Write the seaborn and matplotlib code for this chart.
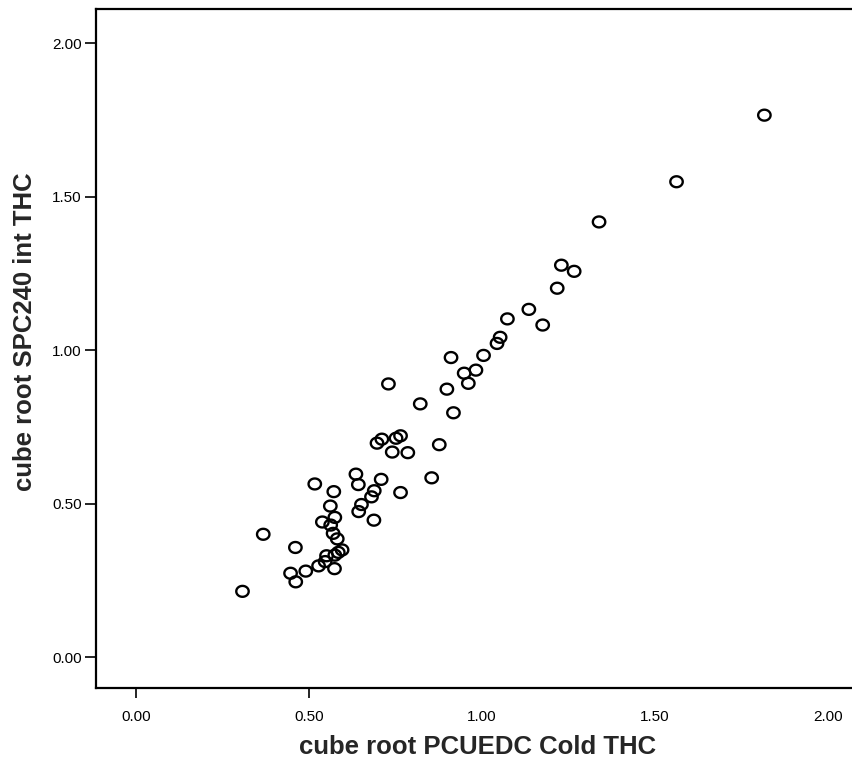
import matplotlib
matplotlib.use("Agg")
import matplotlib.pyplot as plt
from matplotlib.path import Path
import seaborn as sns
import pandas as pd
import numpy as np

x_label = "cube root PCUEDC Cold THC"
y_label = "cube root SPC240 int THC"
tick_values = [0.0, 0.5, 1.0, 1.5, 2.0]
tick_labels = ["0.00", "0.50", "1.00", "1.50", "2.00"]

pcuedc_cold = [
    1.817, 1.563, 1.339, 1.230, 1.267, 1.218,
    1.136, 1.074, 1.176, 1.053, 1.044, 0.911, 1.005, 0.983, 0.949, 0.961,
    0.730, 0.899, 0.822, 0.918, 0.877, 0.855,
    0.697, 0.711, 0.752, 0.765, 0.741, 0.786, 0.636, 0.709, 0.643, 0.517,
    0.572, 0.765, 0.689, 0.681, 0.562, 0.652, 0.644, 0.575, 0.539, 0.688,
    0.563, 0.570, 0.582, 0.368, 0.461, 0.596, 0.585, 0.575, 0.551, 0.547,
    0.528, 0.491, 0.447, 0.462, 0.574, 0.308,
]
spc240_int = [
    1.766, 1.549, 1.418, 1.277, 1.257, 1.202,
    1.133, 1.102, 1.082, 1.042, 1.022, 0.976, 0.983, 0.935, 0.925, 0.892,
    0.890, 0.873, 0.825, 0.796, 0.692, 0.584,
    0.697, 0.710, 0.713, 0.721, 0.668, 0.666, 0.596, 0.579, 0.562, 0.564,
    0.539, 0.536, 0.542, 0.522, 0.492, 0.497, 0.474, 0.455, 0.440, 0.446,
    0.430, 0.403, 0.385, 0.400, 0.357, 0.349, 0.341, 0.332, 0.330, 0.311,
    0.297, 0.280, 0.273, 0.245, 0.288, 0.214,
]

df = pd.DataFrame({x_label: pcuedc_cold, y_label: spc240_int})

# slightly flattened circle marker (as in the SPSS output)
theta = np.linspace(0, 2 * np.pi, 61)
ellipse = Path(np.column_stack([np.cos(theta), 0.88 * np.sin(theta)]), closed=True)

sns.set_style("white")
plt.rcParams["font.family"] = ["Liberation Sans", "DejaVu Sans"]

fig = plt.figure(figsize=(8.52, 7.60), dpi=100)
ax = fig.add_axes([95.5 / 852, 1 - 688 / 760, 1 - 95.5 / 852 + 0.01, (688 - 9) / 760])

sns.scatterplot(data=df, x=x_label, y=y_label, ax=ax, marker=ellipse, s=80,
                facecolor="none", edgecolor="black", linewidth=1.7, legend=False)

ax.set_xlim(-0.117, 2.095)
ax.set_ylim(-0.101, 2.112)

ax.set_xticks(tick_values)
ax.set_xticklabels(tick_labels)
ax.set_yticks(tick_values)
ax.set_yticklabels(tick_labels)

for sp in ["left", "bottom", "top"]:
    ax.spines[sp].set_visible(True)
    ax.spines[sp].set_linewidth(1.6)
    ax.spines[sp].set_color("black")
ax.spines["right"].set_visible(False)

ax.tick_params(axis="both", direction="out", colors="black", labelsize=11, width=1.2)
ax.tick_params(axis="y", length=8, pad=2, left=True)
ax.tick_params(axis="x", length=7.5, pad=8, bottom=True)
for i, t in enumerate(ax.xaxis.get_major_ticks()):
    if i >= 2:
        t.tick1line.set_visible(False)

label_font = dict(family=["Liberation Sans", "DejaVu Sans"],
                  fontsize=18.5, fontweight="bold")
ax.set_xlabel(x_label, **label_font)
ax.set_ylabel(y_label, **label_font)
ax.xaxis.set_label_coords(0.5, -0.069)
ax.yaxis.set_label_coords(-0.076, 0.525)

fig.savefig("out.png", dpi=100, facecolor="white")
